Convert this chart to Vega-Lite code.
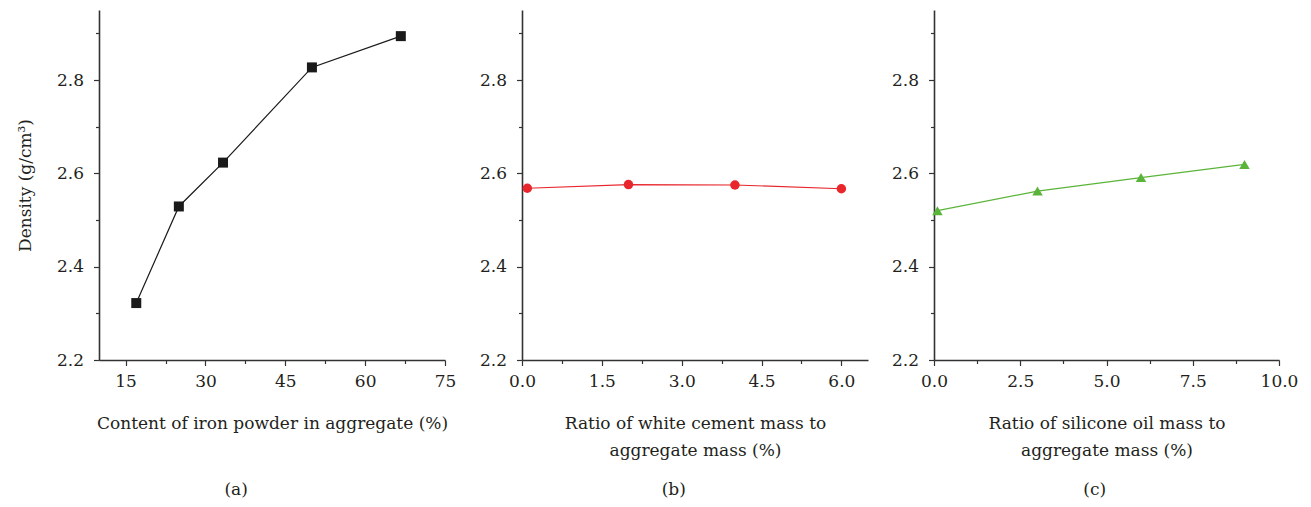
{
  "$schema": "https://vega.github.io/schema/vega-lite/v6.json",
  "padding": {"left": 16, "top": 10, "right": 5, "bottom": 5},
  "background": "white",
  "datasets": {
    "iron": [
      {"content": 17, "density": 2.322},
      {"content": 25, "density": 2.529},
      {"content": 33.3, "density": 2.623},
      {"content": 50, "density": 2.827},
      {"content": 66.7, "density": 2.894}
    ],
    "cement": [
      {"ratio": 0.1, "density": 2.568},
      {"ratio": 2, "density": 2.576},
      {"ratio": 4, "density": 2.575},
      {"ratio": 6, "density": 2.567}
    ],
    "oil": [
      {"ratio": 0.1, "density": 2.52},
      {"ratio": 3, "density": 2.562},
      {"ratio": 6, "density": 2.591},
      {"ratio": 9, "density": 2.619}
    ]
  },
  "config": {
    "view": {"stroke": null},
    "font": "DejaVu Serif",
    "axis": {
      "labelFont": "DejaVu Serif",
      "titleFont": "DejaVu Serif",
      "labelFontSize": 17,
      "titleFontSize": 17,
      "titleFontWeight": "normal",
      "labelColor": "#231f20",
      "titleColor": "#231f20",
      "domainColor": "#333333",
      "domainWidth": 1.6,
      "tickColor": "#333333",
      "tickWidth": 1.2,
      "grid": false,
      "labelFlush": false,
      "labelOverlap": false
    },
    "axisY": {"labelPadding": 10, "titlePadding": 22},
    "axisX": {"labelPadding": 8, "titlePadding": 26, "titleLineHeight": 27},
    "title": {"font": "DejaVu Serif", "fontSize": 17, "fontWeight": "normal", "color": "#231f20", "orient": "bottom", "anchor": "middle", "frame": "bounds"}
  },
  "spacing": 23,
  "hconcat": [
    {
      "width": 346,
      "height": 350,
      "title": {"text": "(a)", "offset": 50},
      "data": {"name": "iron"},
      "encoding": {
        "x": {
          "field": "content", "type": "quantitative",
          "scale": {"domain": [10, 75], "nice": false, "zero": false},
          "axis": {
            "title": "Content of iron powder in aggregate (%)",
            "values": [15, 22.5, 30, 37.5, 45, 52.5, 60, 67.5, 75],
            "labelExpr": "datum.value % 15 === 0 ? format(datum.value, 'd') : ''",
            "tickSize": {"condition": {"test": "datum.value % 15 === 0", "value": 5.5}, "value": 3.5}
          }
        },
        "y": {
          "field": "density", "type": "quantitative",
          "scale": {"domain": [2.2, 2.95], "nice": false, "zero": false},
          "axis": {
            "title": "Density (g/cm³)",
            "values": [2.2, 2.3, 2.4, 2.5, 2.6, 2.7, 2.8, 2.9],
            "labelExpr": "round(datum.value * 10) % 2 === 0 ? format(datum.value, '.1f') : ''",
            "tickSize": {"condition": {"test": "round(datum.value * 10) % 2 === 0", "value": 5.5}, "value": 3.5}
          }
        }
      },
      "layer": [
        {"mark": {"type": "line", "color": "#1a1a1a", "strokeWidth": 1.2}},
        {"mark": {"type": "point", "shape": "square", "filled": true, "color": "#1a1a1a", "size": 100, "opacity": 1}}
      ]
    },
    {
      "width": 346,
      "height": 350,
      "title": {"text": "(b)", "offset": 23},
      "data": {"name": "cement"},
      "encoding": {
        "x": {
          "field": "ratio", "type": "quantitative",
          "scale": {"domain": [0, 6.5], "nice": false, "zero": false},
          "axis": {
            "title": ["Ratio of white cement mass to", "aggregate mass (%)"],
            "values": [0, 0.75, 1.5, 2.25, 3, 3.75, 4.5, 5.25, 6],
            "labelExpr": "round(datum.value / 0.75) % 2 === 0 ? format(datum.value, '.1f') : ''",
            "tickSize": {"condition": {"test": "round(datum.value / 0.75) % 2 === 0", "value": 5.5}, "value": 3.5}
          }
        },
        "y": {
          "field": "density", "type": "quantitative",
          "scale": {"domain": [2.2, 2.95], "nice": false, "zero": false},
          "axis": {
            "title": null,
            "values": [2.2, 2.3, 2.4, 2.5, 2.6, 2.7, 2.8, 2.9],
            "labelExpr": "round(datum.value * 10) % 2 === 0 ? format(datum.value, '.1f') : ''",
            "tickSize": {"condition": {"test": "round(datum.value * 10) % 2 === 0", "value": 5.5}, "value": 3.5}
          }
        }
      },
      "layer": [
        {"mark": {"type": "line", "color": "#e8262c", "strokeWidth": 1.2}},
        {"mark": {"type": "point", "shape": "circle", "filled": true, "color": "#e8262c", "size": 90, "opacity": 1}}
      ]
    },
    {
      "width": 345,
      "height": 350,
      "title": {"text": "(c)", "offset": 23},
      "data": {"name": "oil"},
      "encoding": {
        "x": {
          "field": "ratio", "type": "quantitative",
          "scale": {"domain": [0, 10], "nice": false, "zero": false},
          "axis": {
            "title": ["Ratio of silicone oil mass to", "aggregate mass (%)"],
            "values": [0, 1.25, 2.5, 3.75, 5, 6.25, 7.5, 8.75, 10],
            "labelExpr": "round(datum.value / 1.25) % 2 === 0 ? format(datum.value, '.1f') : ''",
            "tickSize": {"condition": {"test": "round(datum.value / 1.25) % 2 === 0", "value": 5.5}, "value": 3.5}
          }
        },
        "y": {
          "field": "density", "type": "quantitative",
          "scale": {"domain": [2.2, 2.95], "nice": false, "zero": false},
          "axis": {
            "title": null,
            "values": [2.2, 2.3, 2.4, 2.5, 2.6, 2.7, 2.8, 2.9],
            "labelExpr": "round(datum.value * 10) % 2 === 0 ? format(datum.value, '.1f') : ''",
            "tickSize": {"condition": {"test": "round(datum.value * 10) % 2 === 0", "value": 5.5}, "value": 3.5}
          }
        }
      },
      "layer": [
        {"mark": {"type": "line", "color": "#5bb43a", "strokeWidth": 1.2}},
        {"mark": {"type": "point", "shape": "triangle-up", "filled": true, "color": "#5bb43a", "size": 110, "opacity": 1}}
      ]
    }
  ]
}
